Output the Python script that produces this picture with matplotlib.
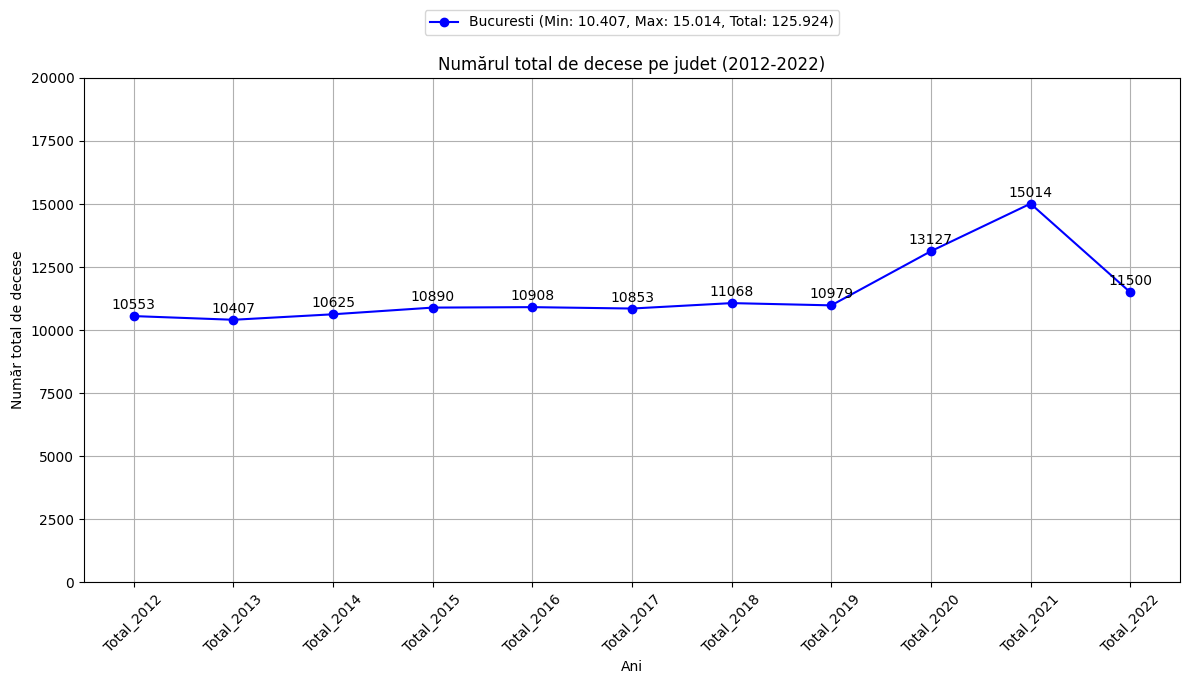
import matplotlib

matplotlib.use("Agg")
import matplotlib.pyplot as plt

YEARS = ["Total_2012", "Total_2013", "Total_2014", "Total_2015", "Total_2016",
         "Total_2017", "Total_2018", "Total_2019", "Total_2020", "Total_2021",
         "Total_2022"]
DEATHS = [10553, 10407, 10625, 10890, 10908, 10853, 11068, 10979, 13127, 15014, 11500]
COUNTY = "Bucuresti"


def fmt(v):
    return f"{v:,}".replace(",", ".")


label = (f"{COUNTY} (Min: {fmt(min(DEATHS))}, Max: {fmt(max(DEATHS))}, "
         f"Total: {fmt(sum(DEATHS))})")

fig = plt.figure(figsize=(11.9, 6.84), dpi=100)
ax = fig.add_axes([0.0706, 0.149, 0.921, 0.737])

ax.plot(YEARS, DEATHS, marker="o", color="blue", label=label)
for x, y in zip(YEARS, DEATHS):
    ax.annotate(str(y), (x, y), textcoords="offset points", xytext=(0, 5),
                ha="center", fontsize=10)

ax.set_ylim(0, 20000)
ax.set_title("Numărul total de decese pe judet (2012-2022)", fontsize=12)
ax.set_xlabel("Ani")
ax.set_ylabel("Număr total de decese")
ax.tick_params(axis="x", rotation=45)
ax.grid(True)

ax.legend(loc="upper center", bbox_to_anchor=(0.5, 1.149))

fig.savefig("out.png", dpi=100)
